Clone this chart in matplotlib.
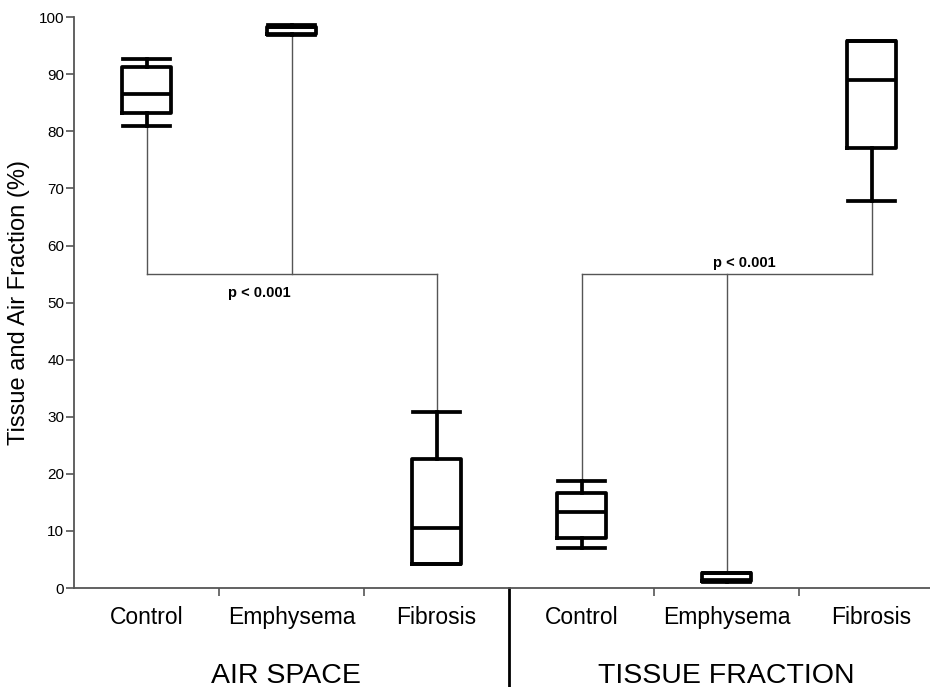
import matplotlib
matplotlib.use("Agg")
import matplotlib.pyplot as plt
import matplotlib.transforms as mtransforms

plt.rcParams['font.family'] = ['Liberation Sans', 'DejaVu Sans']

# groups and categories
categories = ['Control', 'Emphysema', 'Fibrosis', 'Control', 'Emphysema', 'Fibrosis']
groups = ['AIR SPACE', 'TISSUE FRACTION']

# box statistics (%)
whislo = [81.0, 96.9, 4.2, 7.0, 1.1, 67.8]
q1 = [83.2, 97.0, 4.2, 8.8, 1.3, 77.0]
med = [86.5, 98.3, 10.5, 13.4, 1.4, 89.0]
q3 = [91.2, 98.3, 22.6, 16.6, 2.6, 95.8]
whishi = [92.7, 98.7, 30.9, 18.8, 2.7, 95.8]

# significance brackets
bracket_level = [55.0, 55.0]
bracket_members = [[0, 1, 2], [3, 4, 5]]
p_labels = ['p < 0.001', 'p < 0.001']
p_label_x = [0.78, 4.12]
p_label_y = [51.6, 56.9]


def main():
    fig = plt.figure(figsize=(9.3, 6.87), dpi=100)
    ax = fig.add_axes([0.0796, 0.144, 0.9204, 0.831])

    stats = []
    for i in range(len(categories)):
        stats.append({'whislo': whislo[i], 'q1': q1[i], 'med': med[i],
                      'q3': q3[i], 'whishi': whishi[i], 'fliers': []})
    pos = list(range(len(categories)))
    lw = 2.7
    ax.bxp(stats, positions=pos, widths=0.34, showfliers=False,
           boxprops=dict(color='black', linewidth=lw, solid_joinstyle='round'),
           medianprops=dict(color='black', linewidth=lw),
           whiskerprops=dict(color='black', linewidth=lw),
           capprops=dict(color='black', linewidth=lw),
           capwidths=0.33)

    # brackets
    for g in range(len(bracket_members)):
        lvl = bracket_level[g]
        members = bracket_members[g]
        for i in members:
            end = whislo[i] if whislo[i] > lvl else whishi[i]
            ax.plot([i, i], [end, lvl], color='#555555', linewidth=1.0, zorder=1)
        ax.plot([members[0], members[-1]], [lvl, lvl], color='#555555',
                linewidth=1.0, zorder=1)
        ax.text(p_label_x[g], p_label_y[g], p_labels[g], ha='center',
                va='center', fontsize=10.5, fontweight='bold')

    ax.set_xlim(-0.5, 5.403)
    ax.set_ylim(0, 100)
    ax.set_yticks(range(0, 101, 10))
    ax.set_xticks(pos)
    ax.set_xticklabels(categories, fontsize=16.5)
    ax.set_xticks([0.5, 1.5, 3.5, 4.5], minor=True)
    ax.tick_params(axis='x', which='major', length=0, pad=13)
    ax.tick_params(axis='x', which='minor', length=6, width=1.2,
                   color='#555555', direction='out')
    ax.tick_params(axis='y', length=6, width=1.2, color='#555555',
                   labelsize=11, pad=1)
    for s in ['top', 'right']:
        ax.spines[s].set_visible(False)
    for s in ['left', 'bottom']:
        ax.spines[s].set_color('#555555')
        ax.spines[s].set_linewidth(1.3)
    ax.set_ylabel('Tissue and Air Fraction (%)', fontsize=17, labelpad=6)

    # group divider and group titles
    trans = mtransforms.blended_transform_factory(ax.transData, ax.transAxes)
    ax.plot([2.5, 2.5], [0, -0.18], transform=trans, color='black',
            linewidth=2.0, clip_on=False)
    ax.text(0.96, -0.166, groups[0], transform=trans, ha='center',
            va='baseline', fontsize=20.5)
    ax.text(4, -0.166, groups[1], transform=trans, ha='center',
            va='baseline', fontsize=20.5)

    fig.savefig('out.png', dpi=100)


if __name__ == "__main__":
    main()
